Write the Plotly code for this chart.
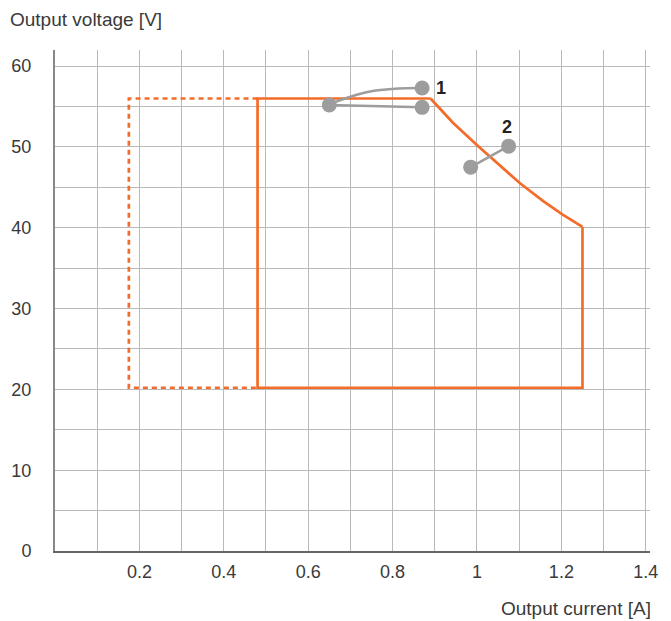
import plotly.graph_objects as go

# Operating area, solid outline (current A, voltage V)
rect_i = [0.89, 0.48, 0.48, 1.25, 1.25]
rect_v = [56.0, 56.0, 20.2, 20.2, 40.1]

# Power-limited edge between the two rectangle ends
curve_i = [0.89, 0.943, 1.003, 1.054, 1.102, 1.157, 1.204, 1.25]
curve_v = [56.0, 53.0, 50.1, 47.7, 45.5, 43.3, 41.6, 40.1]

# Extended area, dotted outline
dotted_i = [0.48, 0.175, 0.175, 0.48]
dotted_v = [56.0, 56.0, 20.2, 20.2]

# Callout 1: a curved and a straight leader from one point
c1_curve_i = [0.65, 0.75, 0.87]
c1_curve_v = [55.3, 56.9, 57.3]
c1_line_i = [0.65, 0.87]
c1_line_v = [55.2, 54.9]

# Callout 2
c2_i = [0.985, 1.075]
c2_v = [47.5, 50.1]

x_ticks = [0.2, 0.4, 0.6, 0.8, 1.0, 1.2, 1.4]
x_labels = ["0.2", "0.4", "0.6", "0.8", "1", "1.2", "1.4"]
y_ticks = [0, 10, 20, 30, 40, 50, 60]

ORANGE = "#f36c2a"
GREY = "#9d9d9d"
FONT = "Liberation Sans"

fig = go.Figure()
fig.add_trace(go.Scatter(x=dotted_i, y=dotted_v, mode="lines",
                         line=dict(color=ORANGE, width=2.7, dash="5px,4px")))
fig.add_trace(go.Scatter(x=rect_i, y=rect_v, mode="lines",
                         line=dict(color=ORANGE, width=2.7)))
fig.add_trace(go.Scatter(x=curve_i, y=curve_v, mode="lines",
                         line=dict(color=ORANGE, width=2.7)))
fig.add_trace(go.Scatter(x=c1_curve_i, y=c1_curve_v, mode="lines",
                         line=dict(color=GREY, width=2.5, shape="spline")))
fig.add_trace(go.Scatter(x=c1_line_i, y=c1_line_v, mode="lines+markers",
                         line=dict(color=GREY, width=2.5),
                         marker=dict(color=GREY, size=15)))
fig.add_trace(go.Scatter(x=[c1_curve_i[-1]], y=[c1_curve_v[-1]], mode="markers",
                         marker=dict(color=GREY, size=15)))
fig.add_trace(go.Scatter(x=c2_i, y=c2_v, mode="lines+markers",
                         line=dict(color=GREY, width=2.5),
                         marker=dict(color=GREY, size=15)))

fig.add_annotation(x=0.915, y=57.3, text="<b>1</b>", showarrow=False,
                   font=dict(size=18, color="#222"))
fig.add_annotation(x=1.07, y=52.5, text="<b>2</b>", showarrow=False,
                   font=dict(size=18, color="#222"))
fig.add_annotation(xref="paper", yref="paper", x=-0.079, y=1.035,
                   xanchor="left", yanchor="bottom", text="Output voltage [V]",
                   showarrow=False, font=dict(size=19, color="#3a3a3a"))
fig.add_annotation(xref="paper", yref="paper", x=1.005, y=-0.09,
                   xanchor="right", yanchor="top", text="Output current [A]",
                   showarrow=False, font=dict(size=19, color="#3a3a3a"))

fig.update_xaxes(range=[0, 1.41], tickvals=x_ticks, ticktext=x_labels,
                 showgrid=True, gridcolor="#b9b9b9", gridwidth=1,
                 minor=dict(tick0=0, dtick=0.1, showgrid=True, gridcolor="#b9b9b9", gridwidth=1),
                 showline=True, linecolor="#666", linewidth=1.5,
                 zeroline=False, ticks="", ticklabelstandoff=4)
fig.update_yaxes(range=[0, 62], tickvals=y_ticks,
                 showgrid=True, gridcolor="#b9b9b9", gridwidth=1,
                 minor=dict(tick0=0, dtick=5, showgrid=True, gridcolor="#b9b9b9", gridwidth=1),
                 showline=True, linecolor="#888", linewidth=2,
                 zeroline=False, ticks="", ticklabelstandoff=18)

fig.update_layout(
    width=671, height=621,
    template="plotly_white",
    plot_bgcolor="white", paper_bgcolor="white",
    showlegend=False,
    margin=dict(l=55, r=21, t=50, b=70),
    font=dict(family=FONT, size=18, color="#3a3a3a"),
)

fig.write_html("out.html", config={"displayModeBar": False},
               post_script="document.body.style.margin = '0';")
